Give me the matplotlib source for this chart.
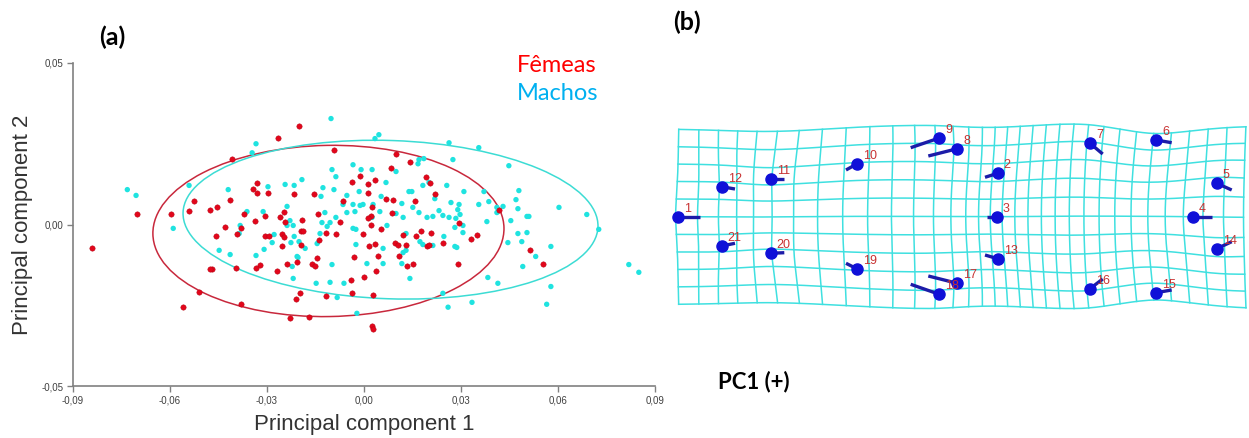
import numpy as np
import matplotlib.pyplot as plt
from matplotlib.patches import Ellipse
from matplotlib.ticker import FuncFormatter

W, H = 1249, 438

# PCA scores (x1000) for females
fem_pc1 = np.array([
    -20.1, -26.6, -40.8, -33.1, -34.3, -33.1, -29.7, -21.6, -15.5, -52.5,
    -41.4, -54.1, -47.6, -45.4, -59.6, -37.1, -30.6, -33.7, -26.0, -24.7,
    -24.4, -19.2, -14.2, -43.0, -38.0, -45.7, -39.2, -30.6, -29.4, -25.3,
    -24.7, -25.3, -19.5, -18.8, -19.5, -13.9, -14.5, -16.1, -15.1, -23.8,
    -20.7, -32.1, -33.4, -26.9, -39.6, -47.0, -47.6, -51.0, -55.9, -38.0,
    -19.8, -21.0, -22.9, -17.0, -11.7, -11.7, -84.0, -70.1, -9.3, 9.9,
    14.2, 8.3, -3.7, -1.2, 1.2, 3.4, 19.2, 20.4, 1.2, 21.9,
    6.8, 9.0, -6.5, 15.8, 2.5, 8.7, 2.2, 1.2, 2.2, -7.4,
    29.4, 41.7, -8.7, 5.3, -0.3, 12.1, 16.1, 17.6, 20.7, 9.6,
    10.5, 13.0, 19.5, 20.1, 1.5, 3.4, 24.4, 33.1, 34.9, -3.1,
    4.3, 10.8, 13.3, 15.1, 29.0, 0.0, 3.7, -4.0, -3.7, 2.8,
    2.5, 2.8, 51.3, 55.3]) / 1000
fem_pc2 = np.array([
    30.6, 26.9, 20.4, 13.0, 11.1, 9.9, 9.6, 9.3, 9.3, 7.4,
    7.7, 4.3, 4.6, 5.3, 3.1, 3.1, 2.5, 1.2, 2.2, 4.0,
    0.9, 1.5, 3.4, -0.9, -1.2, -3.7, -2.8, -3.7, -3.7, -2.8,
    -4.0, -6.8, -1.9, -1.9, -6.2, -4.9, -10.5, -12.1, -13.0, -12.1,
    -11.7, -12.4, -13.6, -14.5, -13.6, -13.9, -13.9, -21.0, -25.6, -24.7,
    -21.3, -23.2, -29.0, -28.7, -2.5, -22.2, -7.4, 3.4, 23.2, 21.9,
    19.2, 17.6, 13.3, 15.1, 12.4, 13.9, 14.8, 13.0, 9.9, 9.3,
    8.0, 7.7, 7.4, 7.4, 5.3, 3.7, 2.5, 1.9, 0.0, 0.9,
    0.6, 4.6, -2.8, -1.5, -2.8, -3.1, -3.7, -1.9, -2.5, -5.6,
    -6.2, -6.2, -6.8, -6.2, -6.8, -5.9, -5.6, -4.6, -3.1, -10.2,
    -9.9, -9.6, -12.7, -12.1, -12.1, -16.1, -14.5, -17.3, -21.3, -21.9,
    -31.5, -32.4, -8.0, -12.1]) / 1000

# PCA scores (x1000) for males
mal_pc1 = np.array([
    -33.4, -34.6, -54.1, -42.0, -24.4, -21.6, -19.2, -29.7, -12.7, -13.3,
    -23.8, -36.2, -31.2, -22.9, -21.9, -23.8, -12.1, -13.0, -59.0, -38.3,
    -11.4, -38.6, -27.8, -28.4, -30.9, -33.4, -44.8, -41.4, -21.6, -22.6,
    -20.1, -18.2, -20.7, -20.4, -22.2, -21.9, -14.8, -13.6, -14.5, -73.2,
    -70.5, -10.2, 3.4, 4.6, 26.3, 35.5, 27.5, 17.0, 18.5, 16.7,
    -3.4, -9.9, -8.7, -0.9, 2.5, 9.9, 6.8, -9.3, -1.5, 14.8,
    13.9, 18.2, 20.1, 25.6, 30.9, 37.1, 38.6, 21.9, 26.9, 29.4,
    29.0, 35.5, 5.3, 11.7, 15.1, 17.0, 19.5, 21.3, 23.2, 24.4,
    26.3, 28.4, 29.7, 30.6, 38.0, 41.1, -5.3, -6.5, -3.4, -1.2,
    -0.3, 2.8, -2.8, -5.3, 4.9, 2.5, 7.1, -8.7, -10.5, -3.4,
    9.9, 12.1, -2.5, 13.0, 17.3, 18.2, 21.3, 13.0, 12.1, 24.7,
    28.1, 30.6, 28.1, 28.7, -2.5, 5.9, 0.9, 5.9, 11.7, -9.9,
    14.2, -10.5, -6.2, 38.3, 41.4, 24.4, 33.4, 26.0, -2.2, -8.3,
    60.3, 68.9, 72.6, 81.9, 85.0, 57.8, 57.8, 56.5, 53.1, 49.1,
    48.8, 47.6, 50.4, 50.4, 51.0, 47.0, 47.9, 47.6, 45.4, 44.5,
    44.8, 43.0, 41.1]) / 1000
mal_pc2 = np.array([
    25.0, 22.2, 12.1, 10.8, 12.4, 12.1, 13.9, 11.7, 11.4, 8.7,
    5.6, 4.0, 4.0, 1.2, -0.3, -0.3, 3.7, 0.6, -1.2, -0.3,
    -0.6, -2.8, -3.1, -5.6, -7.7, -9.6, -8.0, -9.3, -3.7, -5.6,
    -5.3, -7.4, -9.9, -10.2, -13.0, -16.7, -18.2, -2.8, -5.9, 10.8,
    9.0, 32.8, 26.6, 27.8, 25.3, 23.8, 20.1, 20.1, 20.4, 18.8,
    18.5, 17.0, 14.8, 17.0, 17.0, 16.4, 13.0, 10.8, 10.2, 10.2,
    10.2, 12.1, 13.0, 12.1, 10.2, 10.2, 7.1, 8.0, 6.8, 6.2,
    4.6, 6.2, 8.7, 6.5, 5.3, 3.7, 2.2, 2.5, 4.3, 2.8,
    2.2, 1.9, 3.1, -0.3, 0.9, 5.3, 9.0, 6.2, 6.2, 5.9,
    6.2, 6.2, 4.0, 3.7, 4.0, 2.2, -0.3, 2.2, 0.6, -1.2,
    3.4, 2.2, -1.5, -2.8, -5.3, -6.2, -6.5, -8.0, -8.7, -3.7,
    -0.9, -2.5, -6.8, -7.1, -6.2, -7.4, -12.1, -12.1, -12.1, -12.4,
    -16.7, -17.9, -18.2, -16.4, -18.2, -21.3, -24.1, -25.6, -27.5, -22.6,
    5.3, 3.1, -1.5, -12.4, -14.8, -6.8, -19.2, -24.7, -9.9, -13.0,
    -5.3, -2.8, -2.5, 2.5, 2.5, 7.7, 10.5, 4.9, 1.2, -5.6,
    18.2, 5.6, 3.7]) / 1000

# 95% ellipses: centre x, centre y, width, height, angle
ell_fem = (-0.0110, -0.0020, 0.1086, 0.0530, 1.0)
ell_mal = (0.0082, 0.0015, 0.1284, 0.0490, -2.0)

# landmarks (mean shape) and displacement sticks along PC1
lm_id = np.arange(1, 22)
lm_x = np.array([0.0, 319.7, 318.7, 514.7, 538.7, 478.0, 412.0, 279.3, 261.3, 178.7,
                 92.7, 43.7, 319.7, 538.7, 478.0, 412.0, 279.3, 261.3, 178.7, 92.7, 43.7])
lm_y = np.array([0.0, 43.4, 0.0, 0.0, 33.4, 76.7, 73.4, 68.0, 78.7, 52.7,
                 37.4, 30.0, -42.0, -32.0, -76.0, -72.0, -66.6, -77.6, -52.0, -36.6, -29.3])
stick_dx = np.array([22.0, -12.7, -10.0, 19.6, 15.0, 15.7, 12.7, -29.0, -28.6, -10.7,
                     13.6, 13.3, -12.7, 15.0, 15.7, 12.7, -29.0, -28.6, -10.7, 13.6, 13.3])
stick_dy = np.array([0.0, -4.0, 0.0, 0.0, -6.7, -2.7, -10.7, -7.3, -9.7, -6.0,
                     0.0, -2.3, 3.7, 7.0, 2.7, 9.7, 7.3, 10.0, 5.4, 0.6, 2.7])


def tps_fit(src, dst):
    n = len(src)
    d2 = ((src[:, None, :] - src[None, :, :]) ** 2).sum(-1)
    K = np.where(d2 > 0, d2 * np.log(d2 + 1e-12), 0.0)
    P = np.hstack([np.ones((n, 1)), src])
    L = np.zeros((n + 3, n + 3))
    L[:n, :n] = K
    L[:n, n:] = P
    L[n:, :n] = P.T
    rhs = np.zeros((n + 3, 2))
    rhs[:n] = dst
    return np.linalg.solve(L, rhs)


def tps_apply(coef, src, pts):
    d2 = ((pts[:, None, :] - src[None, :, :]) ** 2).sum(-1)
    U = np.where(d2 > 0, d2 * np.log(d2 + 1e-12), 0.0)
    P = np.hstack([np.ones((len(pts), 1)), pts])
    return U @ coef[:len(src)] + P @ coef[len(src):]


fig = plt.figure(figsize=(W / 100, H / 100), dpi=100)

# ---- (a) PCA scatter ----
ax = fig.add_axes([73 / W, 1 - 386 / H, 582 / W, 323 / H])
ax.scatter(mal_pc1, mal_pc2, s=15, color='#1fe3e0', edgecolors='none', zorder=3)
ax.scatter(fem_pc1, fem_pc2, s=15, color='#e2061b', edgecolors='#b00010',
           linewidths=0.3, zorder=3)
for (cx, cy, w, h, ang), col in [(ell_fem, '#c8283c'), (ell_mal, '#3cdcd4')]:
    ax.add_patch(Ellipse((cx, cy), w, h, angle=ang, fill=False, ec=col, lw=1.1, zorder=2))

ax.set_xlim(-0.09, 0.09)
ax.set_ylim(-0.05, 0.05)
ax.set_xticks(np.arange(-0.09, 0.091, 0.03))
ax.set_yticks([-0.05, 0.0, 0.05])
comma = FuncFormatter(lambda v, p: f'{v:.2f}'.replace('.', ',').replace('-0,00', '0,00'))
ax.xaxis.set_major_formatter(comma)
ax.yaxis.set_major_formatter(comma)
for s in ['top', 'right']:
    ax.spines[s].set_visible(False)
for s in ['left', 'bottom']:
    ax.spines[s].set_color('#808080')
    ax.spines[s].set_linewidth(1.2)
ax.tick_params(length=4, width=1, color='#808080', labelsize=7, labelcolor='#404040',
               pad=3)
for lab in ax.get_xticklabels() + ax.get_yticklabels():
    lab.set_family('Liberation Sans')
ax.set_xlabel('Principal component 1', fontsize=16, family='Liberation Sans',
              color='#333333', labelpad=6)
ax.set_ylabel('Principal component 2', fontsize=16, family='Liberation Sans',
              color='#333333', labelpad=6)

fig.text(112 / W, 1 - 37 / H, '(a)', fontsize=18, fontweight='bold', family='Lato',
         ha='center', va='center')
fig.text(557 / W, 1 - 66 / H, 'Fêmeas', fontsize=17, color='#ff0000', family='Lato',
         ha='center', va='center')
fig.text(558 / W, 1 - 94 / H, 'Machos', fontsize=17, color='#00b0f0', family='Lato',
         ha='center', va='center')

# ---- (b) deformation grid with lollipops ----
bx = fig.add_axes([670 / W, 1 - 320 / H, 579 / W, 210 / H])
bx.set_xlim(-8, 571)
bx.set_ylim(-103.3, 106.7)
bx.axis('off')

src = np.column_stack([lm_x + stick_dx, lm_y + stick_dy])
dst = np.column_stack([lm_x, lm_y])
coef = tps_fit(src, dst)

gx = np.linspace(20, 578, 33)
gy = np.linspace(-80, 80, 11)
t = np.linspace(0, 1, 200)
for x0 in gx:
    pts = np.column_stack([np.full_like(t, x0), gy[0] + (gy[-1] - gy[0]) * t])
    w = tps_apply(coef, src, pts)
    bx.plot(w[:, 0], w[:, 1], color='#3fe0e0', lw=1.1, zorder=1)
for y0 in gy:
    pts = np.column_stack([gx[0] + (gx[-1] - gx[0]) * t, np.full_like(t, y0)])
    w = tps_apply(coef, src, pts)
    bx.plot(w[:, 0], w[:, 1], color='#3fe0e0', lw=1.1, zorder=1)

for i in range(len(lm_id)):
    bx.plot([lm_x[i], lm_x[i] + stick_dx[i]], [lm_y[i], lm_y[i] + stick_dy[i]],
            color='#1c1ca8', lw=2.4, solid_capstyle='butt', zorder=3)
bx.plot(lm_x, lm_y, 'o', color='#1010d8', ms=8, zorder=4)
for i, n in enumerate(lm_id):
    bx.text(lm_x[i] + 6, lm_y[i] + 2, str(n), fontsize=9, color='#c83232',
            family='Liberation Sans', ha='left', va='bottom', zorder=5)

fig.text(687 / W, 1 - 22 / H, '(b)', fontsize=18, fontweight='bold', family='Lato',
         ha='center', va='center')
fig.text(754 / W, 1 - 382 / H, 'PC1 (+)', fontsize=16, fontweight='bold', family='Lato',
         ha='center', va='center')

fig.savefig('out.png', dpi=100)
